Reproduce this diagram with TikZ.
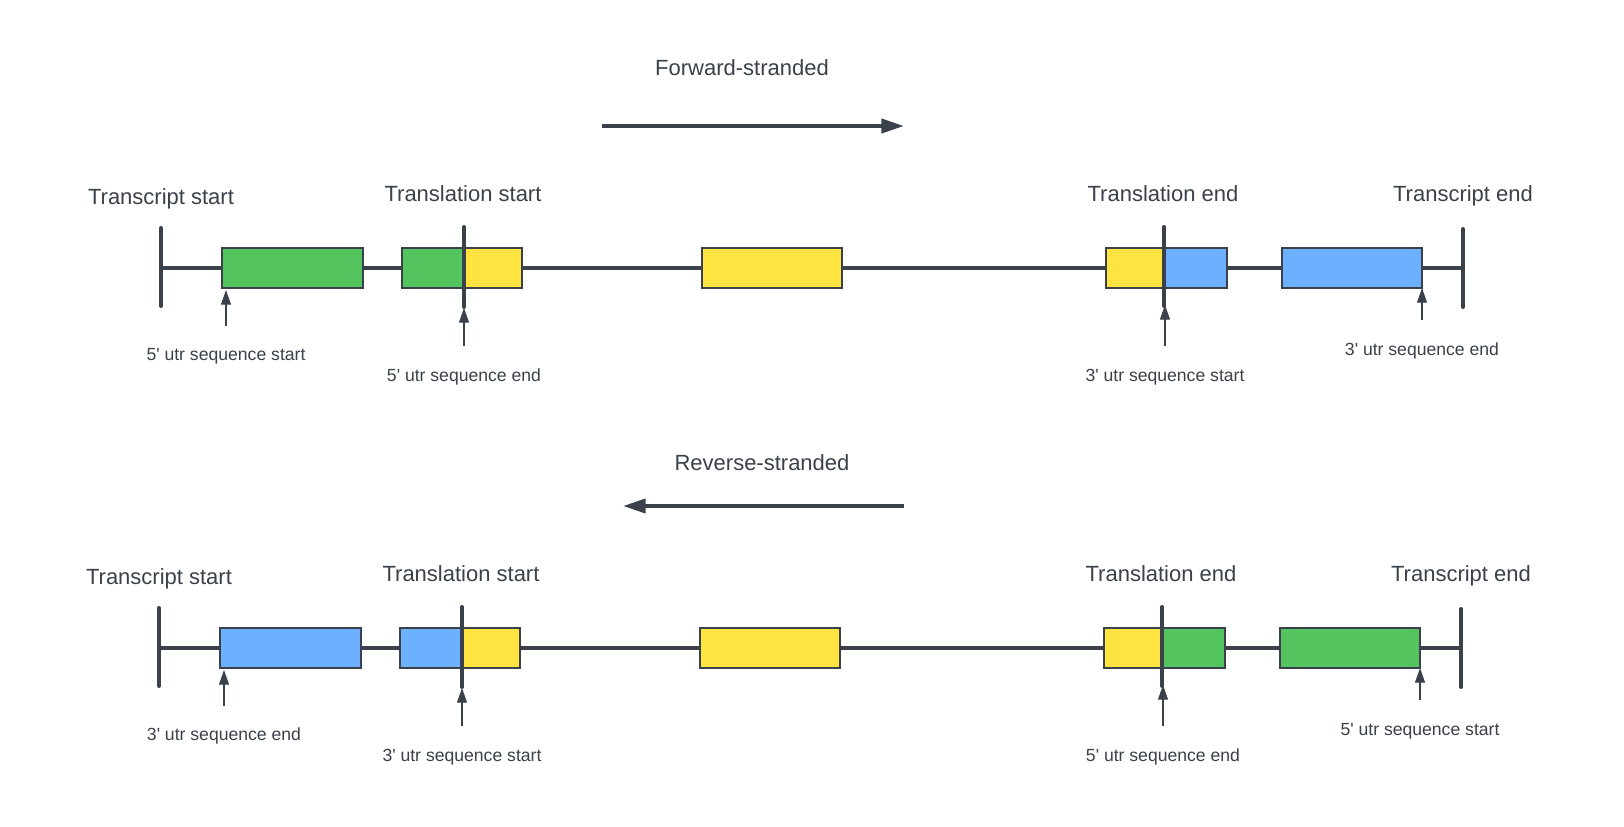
\documentclass[tikz,border=0pt]{standalone}
\usepackage{fontspec}
\setmainfont{Liberation Sans}
\usetikzlibrary{arrows.meta}
\definecolor{ink}{HTML}{3A414A}
\definecolor{cgreen}{HTML}{54C45E}
\definecolor{cyellow}{HTML}{FFE340}
\definecolor{cblue}{HTML}{6CB0FF}
\tikzset{
  exon/.style={draw=ink, line width=0.8pt, inner sep=0pt, minimum height=30pt},
  backbone/.style={draw=ink, line width=2.4pt},
  tickmark/.style={draw=ink, line width=3pt, line cap=round},
  pointer/.style={draw=ink, line width=0.8pt, -{Triangle[width=7.5pt,length=11pt]}},
  strand/.style={draw=ink, line width=3pt, -{Triangle[width=10.5pt,length=17pt]}},
  bigtext/.style={text=ink, font=\fontsize{16.5}{20}\selectfont, inner sep=0pt, anchor=base},
  smalltext/.style={text=ink, font=\fontsize{13.2}{16}\selectfont, inner sep=0pt, anchor=base},
}
\newcommand\sq{\textquotesingle}
% #1 prefix, #2 colour of left UTR, #3 colour of right UTR, #4..#7 pointer labels
\newcommand\generow[7]{%
  \coordinate (#1bl) at (161,268);
  \coordinate (#1br) at (1463,268);
  \draw[backbone] (#1bl) -- (#1br);
  \node[exon, fill=#2, minimum width=105.75pt] (#1A) at (292.5,268) {};
  \node[exon, fill=#2, minimum width=45.75pt] (#1B1) at (432.5,268) {};
  \node[exon, fill=cyellow, minimum width=44.25pt] (#1B2) at (492.5,268) {};
  \node[exon, fill=cyellow, minimum width=105pt] (#1C) at (772,268) {};
  \node[exon, fill=cyellow, minimum width=42.75pt] (#1D1) at (1134.5,268) {};
  \node[exon, fill=#3, minimum width=48pt] (#1D2) at (1195,268) {};
  \node[exon, fill=#3, minimum width=105pt] (#1E) at (1352,268) {};
  \coordinate (#1t1a) at (161,228); \coordinate (#1t1b) at (161,306);
  \coordinate (#1t2a) at (464,227); \coordinate (#1t2b) at (464,307);
  \coordinate (#1t3a) at (1164,227); \coordinate (#1t3b) at (1164,306);
  \coordinate (#1t4a) at (1463,229); \coordinate (#1t4b) at (1463,307);
  \draw[tickmark] (#1t1a) -- (#1t1b);
  \draw[tickmark] (#1t2a) -- (#1t2b);
  \draw[tickmark] (#1t3a) -- (#1t3b);
  \draw[tickmark] (#1t4a) -- (#1t4b);
  \node[bigtext] (#1lts) at (161,204) {Transcript start};
  \node[bigtext] (#1ltls) at (463,201.7) {Translation start};
  \node[bigtext] (#1ltle) at (1163,201.7) {Translation end};
  \node[bigtext] (#1lte) at (1463,201.7) {Transcript end};
  \coordinate (#1p1a) at (226,326); \coordinate (#1p1b) at (226,290);
  \coordinate (#1p2a) at (464,346); \coordinate (#1p2b) at (464,308);
  \coordinate (#1p3a) at (1165,346); \coordinate (#1p3b) at (1165,305);
  \coordinate (#1p4a) at (1422,320); \coordinate (#1p4b) at (1422,288);
  \draw[pointer] (#1p1a) -- (#1p1b);
  \draw[pointer] (#1p2a) -- (#1p2b);
  \draw[pointer] (#1p3a) -- (#1p3b);
  \draw[pointer] (#1p4a) -- (#1p4b);
  \node[smalltext] (#1s1) at (226,360.7) {#4};
  \node[smalltext] (#1s2) at (464,381.5) {#5};
  \node[smalltext] (#1s3) at (1165,381) {#6};
  \node[smalltext] (#1s4) at (1422,355) {#7};
}
\begin{document}
\begin{tikzpicture}[x=0.75pt,y=-0.75pt]
  \useasboundingbox (0,0) rectangle (1624,826);
  \fill[white] (0,0) rectangle (1624,826);
  % forward strand
  \node[bigtext] (fwd) at (742,75.7) {Forward-stranded};
  \coordinate (fwda) at (602,126);
  \coordinate (fwdb) at (904,126);
  \draw[strand] (fwda) -- (fwdb);
  \generow{f}{cgreen}{cblue}{5\sq{} utr sequence start}{5\sq{} utr sequence end}{3\sq{} utr sequence start}{3\sq{} utr sequence end}
  % reverse strand
  \node[bigtext] (rev) at (762,470) {Reverse-stranded};
  \coordinate (reva) at (904,506);
  \coordinate (revb) at (623,506);
  \draw[strand] (reva) -- (revb);
  \begin{scope}[shift={(-2,380)}]
    \generow{r}{cblue}{cgreen}{3\sq{} utr sequence end}{3\sq{} utr sequence start}{5\sq{} utr sequence end}{5\sq{} utr sequence start}
  \end{scope}
\end{tikzpicture}
\end{document}
